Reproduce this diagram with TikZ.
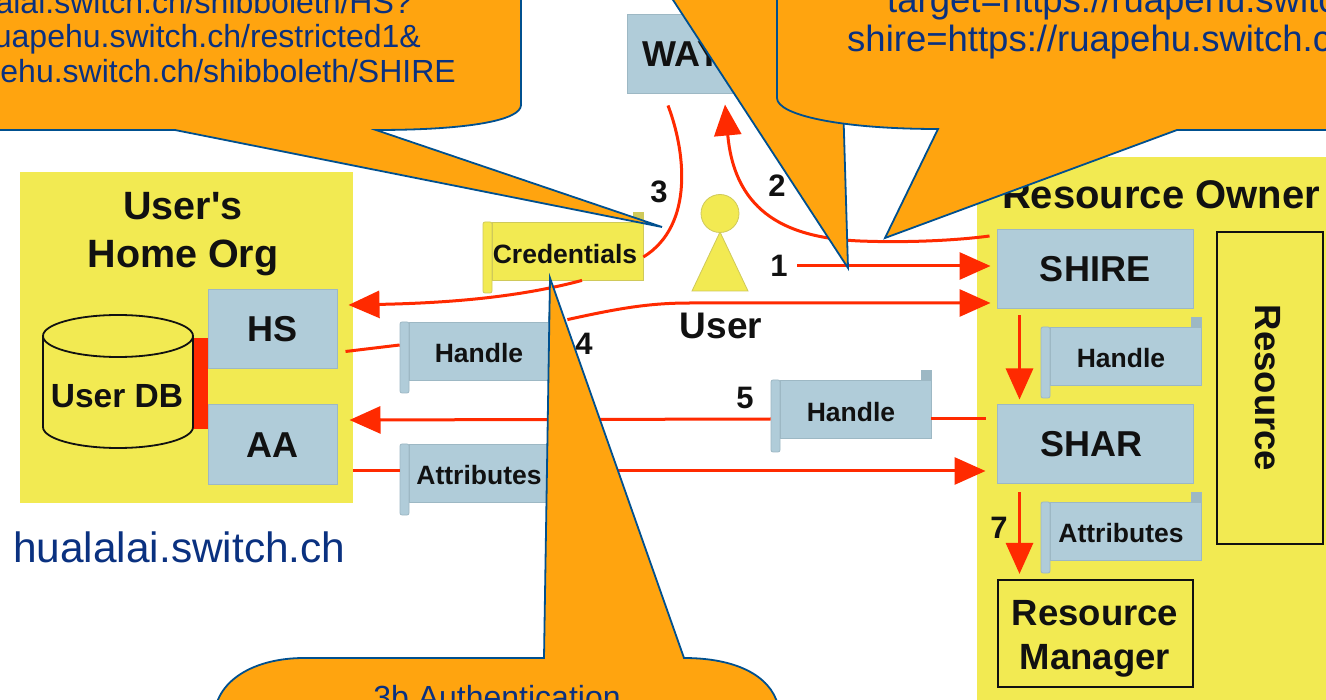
\documentclass[tikz,border=0pt]{standalone}
\usepackage{fontspec}
\setmainfont{Liberation Sans}
\newfontfamily\plainfont{Liberation Sans}
\usetikzlibrary{arrows.meta}
\definecolor{orgY}{HTML}{F2EA52}
\definecolor{boxB}{HTML}{B0CCD9}
\definecolor{boxE}{HTML}{9DB8C4}
\definecolor{yelE}{HTML}{CFC95A}
\definecolor{arrR}{HTML}{FF2A00}
\definecolor{callF}{HTML}{FFA40F}
\definecolor{callE}{HTML}{00508F}
\definecolor{callT}{HTML}{0A3180}
\definecolor{inkK}{HTML}{111111}
\newcommand{\fsz}[1]{\fontsize{#1}{#1}\selectfont}
\tikzset{
  x=1pt,y=-1pt,
  orgarea/.style={fill=orgY,draw=none},
  compbox/.style={fill=boxB,draw=boxE,line width=1pt,inner sep=0pt,font=\fsz{36}\bfseries,text=inkK},
  framebox/.style={fill=orgY,draw=inkK,line width=2.2pt,inner sep=0pt},
  boldlabel/.style={inner sep=0pt,font=\fsz{#1}\bfseries,text=inkK,align=center},
  boldlabel/.default=36,
  numlabel/.style={inner sep=0pt,font=\fsz{31}\bfseries,text=inkK},
  scrolltext/.style={inner sep=0pt,font=\fsz{26.5}\bfseries,text=inkK},
  conn/.style={draw=arrR,line width=3pt,line cap=butt},
  connhead/.style={conn,-{Triangle[length=31pt,width=27pt,fill=arrR]}},
  bubble/.style={fill=callF,draw=callE,line width=1.8pt,line join=miter},
  bubbletext/.style={inner sep=0pt,font=\fsz{32},text=callT},
  bubblewide/.style={inner sep=0pt,font=\fsz{36.5},text=callT},
  urltext/.style={inner sep=0pt,font=\fsz{42.4},text=callT},
}
% name, x0(body left), y0, x1, y1, curl bottom, fill, edge
\newcommand{\scrollbox}[8]{%
  \path[fill=#7,draw=#8,line width=.8pt,rounded corners=2pt] (#2-9,#3) rectangle (#2,#6);
  \path[fill=#8,draw=#8,line width=.6pt] (#4-9.5,#3-9.5) rectangle (#4,#3);
  \node[fill=#7,draw=#8,line width=.8pt,inner sep=0pt,minimum width=#4pt-#2pt,minimum height=#5pt-#3pt] (#1) at ({(#2+#4)/2},{(#3+#5)/2}) {};
}
\begin{document}
\begin{tikzpicture}
\useasboundingbox (0,0) rectangle (1326,700);
\clip (0,0) rectangle (1326,700);
\fill[white] (0,0) rectangle (1326,700);
% organisation areas
\path[orgarea] (20,172) rectangle (353,503);
\path[orgarea] (977,157) rectangle (1340,710);
\node[boldlabel=39.5] (homeorg) at (183,234) {{\plainfont\bfseries User's}\\[8pt]Home Org};
\node[boldlabel=40] (resowner) at (1161,195) {Resource Owner};
\node[urltext,anchor=base west] (hostname) at (13,562) {hualalai.switch.ch};
% user db
\fill[arrR] (193,338) rectangle (208,429);
\path[fill=orgY,draw=inkK,line width=1.8pt] (43,336) -- (43,427) arc[start angle=180,end angle=360,x radius=75,y radius=-21] -- (193,336);
\path[fill=orgY,draw=inkK,line width=1.8pt] (118,336) ellipse[x radius=75,y radius=21];
\node[boldlabel=33.5] (userdb) at (117,396) {User DB};
% components
\node[compbox,minimum width=129pt,minimum height=79pt] (hs) at (272.5,329.5) {HS};
\node[compbox,minimum width=129pt,minimum height=80pt] (aa) at (272.5,445) {AA};
\node[compbox,minimum width=132pt,minimum height=79pt] (wayf) at (693,54.5) {WAYF};
\node[compbox,minimum width=196pt,minimum height=79pt] (shire) at (1095,269.5) {SHIRE};
\node[compbox,minimum width=196pt,minimum height=79pt] (shar) at (1095,444.5) {\hspace*{-7pt}SHAR};
\node[framebox,minimum width=106pt,minimum height=312pt] (resource) at (1270,388) {};
\node[boldlabel=36.5,rotate=-90] (resourcetxt) at (1268,388) {Resource};
\node[framebox,minimum width=195pt,minimum height=107pt] (rm) at (1095.5,633.5) {};
\node[boldlabel=36.5] (rmtext) at (1095,639) {Resource\\[7pt]Manager};
% user
\path[fill=orgY,draw=yelE,line width=.8pt] (720,232) -- (748,291) -- (692,291) -- cycle;
\path[fill=orgY,draw=yelE,line width=.8pt] (720,213.5) circle[radius=19];
\node[boldlabel=37] (usertxt) at (721,326) {User};
% connectors
\coordinate (onestart) at (797,266);
\draw[connhead] (onestart) -- ([xshift=-6pt,yshift=3.5pt]shire.west);
\draw[connhead] ([xshift=-7pt,yshift=33.5pt]shire.west) .. controls (960,240) and (910,243) .. (860,241) .. controls (790,238) and (735,215) .. ([xshift=32pt,yshift=-10pt]wayf.south);
% scrolls
\scrollbox{cred}{492}{222}{643}{280}{293}{orgY}{yelE}
\node[scrolltext] (credt) at (565,254) {Credentials};
\scrollbox{handleL}{409}{322}{558}{380}{393}{boxB}{boxE}
\node[scrolltext] (handleLt) at (479,353) {Handle};
\scrollbox{attrL}{409}{444}{558}{502}{515}{boxB}{boxE}
\node[scrolltext] (attrLt) at (479,475) {Attributes};
\scrollbox{handleM}{780}{380}{931}{438}{452}{boxB}{boxE}
\node[scrolltext] (handleMt) at (851,412) {Handle};
\scrollbox{handleR}{1050}{327}{1201}{385}{398}{boxB}{boxE}
\node[scrolltext] (handleRt) at (1121,358) {Handle};
\scrollbox{attrR}{1050}{502}{1201}{560}{573}{boxB}{boxE}
\node[scrolltext] (attrRt) at (1121,533) {Attributes};
% step numbers
\node[numlabel] (n1) at (779,266) {1};
\node[numlabel] (n2) at (777,186) {2};
\node[numlabel] (n3) at (659,192) {3};
\node[numlabel] (n4) at (584,344) {4};
\node[numlabel] (n5) at (745,398) {5};
\node[numlabel] (n7) at (999,528) {7};
% remaining connectors
\draw[conn] ([xshift=-25pt,yshift=-11pt]wayf.south) .. controls (685,150) and (695,225) .. ([yshift=-6pt]cred.east);
\draw[connhead] ([xshift=14.5pt]cred.south) .. controls (520,297) and (450,303) .. ([xshift=11pt,yshift=24.5pt]hs.east);
\draw[conn] ([xshift=8pt,yshift=-22pt]hs.east) -- ([xshift=-9pt,yshift=6pt]handleL.west);
\draw[connhead] ([xshift=9pt,yshift=2pt]handleL.north east) .. controls (620,308) and (650,303) .. (690,303) -- ([xshift=-6pt,yshift=-33.5pt]shire.west);
\draw[conn] ([xshift=-11pt,yshift=25.5pt]shar.west) -- ([yshift=-10pt]handleM.east);
\draw[connhead] ([xshift=-9pt,yshift=-10pt]handleM.west) -- ([xshift=12pt,yshift=25pt]aa.east);
\draw[conn] ([xshift=15pt,yshift=-26pt]aa.east) -- ([xshift=-9pt,yshift=2pt]attrL.west);
\draw[connhead] ([yshift=2pt]attrL.east) -- ([xshift=-11pt,yshift=-26.5pt]shar.west);
\draw[connhead] ([xshift=-75.5pt,yshift=-6pt]shire.south) -- ([xshift=-75.5pt,yshift=5pt]shar.north);
\draw[connhead] ([xshift=-75.5pt,yshift=-8pt]shar.south) -- ([xshift=-76pt,yshift=5pt]rm.north);
% callouts
\path[bubble] (660,-20) -- (848,268) -- (843,100) -- (843,-20) -- cycle;
\path[bubble] (777,-20) -- (777,98) .. controls (777,115) and (840,129) .. (938,129) -- (885,238) -- (1177,130) -- (1346,130) -- (1346,-20) -- cycle;
\node[bubblewide,anchor=base west] (callBa) at (887,13) {target=https://ruapehu.switch};
\node[bubblewide,anchor=base west] (callBb) at (847,52) {shire=https://ruapehu.switch.ch};
\path[bubble] (-20,-20) -- (521,-20) -- (521,105) .. controls (521,120) and (470,130) .. (376,130) -- (662,227) -- (175,130) -- (-20,130) -- cycle;
\node[bubbletext,anchor=base east] (callAa) at (412,14) {alalai.switch.ch/shibboleth/HS?};
\node[bubbletext,anchor=base east] (callAb) at (421,48) {ruapehu.switch.ch/restricted1\&};
\node[bubbletext,anchor=base east] (callAc) at (456,83) {pehu.switch.ch/shibboleth/SHIRE};
\path[bubble] (214,720) .. controls (214,680) and (255,658) .. (304,658) -- (544,658) -- (550,278) -- (684,658) .. controls (735,658) and (770,675) .. (778,705) -- (778,720) -- cycle;
\node[bubbletext,anchor=base] (callCa) at (497,708) {3b Authentication};
\end{tikzpicture}
\end{document}
